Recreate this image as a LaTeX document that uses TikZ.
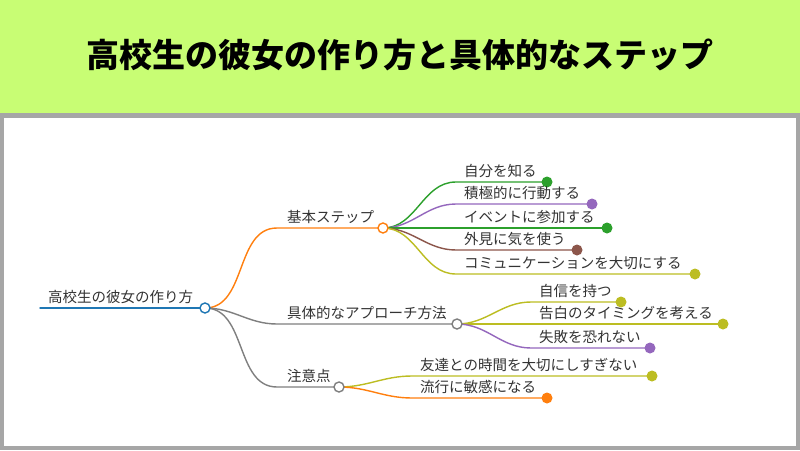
\documentclass[tikz,border=0pt]{standalone}
\usepackage{fontspec}
\setmainfont{Noto Sans CJK JP}
\usetikzlibrary{positioning}
\definecolor{banner}{HTML}{C8FD74}
\definecolor{frame}{HTML}{A6A6A6}
\definecolor{txt}{HTML}{333333}
\definecolor{cblue}{HTML}{1F77B4}
\definecolor{corange}{HTML}{FF7F0E}
\definecolor{cgray}{HTML}{7F7F7F}
\definecolor{cgreen}{HTML}{2CA02C}
\definecolor{cpurple}{HTML}{9467BD}
\definecolor{cbrown}{HTML}{8C564B}
\definecolor{colive}{HTML}{BCBD22}
\tikzset{
    every node/.style={font=\fontsize{14.5}{16}\selectfont, text=txt},
    hub/.style={circle, draw=#1, fill=white, line width=1.4pt, inner sep=0pt, minimum size=10pt},
    leaf/.style={circle, fill=#1, inner sep=0pt, minimum size=11pt},
    lbl/.style={anchor=south west, inner sep=0pt, xshift=8pt, yshift=4pt},
    branch/.style={line width=1.4pt}
}

\begin{document}
\begin{tikzpicture}[
            x = 1pt, y = -1pt, % pixel grid
            line cap = round
        ]
        \useasboundingbox (0,0) rectangle (800,450);

        % title banner and frame
        \fill[banner] (0,0) rectangle (800,113);
        \fill[frame] (0,113) rectangle (800,450);
        \fill[white] (4,118) rectangle (796,446);
        \node[font=\fontsize{33}{36}\selectfont\bfseries, text=black] (title) at (400,55) {高校生の彼女の作り方と具体的なステップ};

        % positions
        \coordinate (rootL) at (40,308);
        \coordinate (root) at (205,308);
        \coordinate (basicL) at (277,228);
        \coordinate (basic) at (383,228);
        \coordinate (approachL) at (277,324);
        \coordinate (approach) at (457,324);
        \coordinate (cautionL) at (277,387);
        \coordinate (caution) at (339,387);

        \coordinate (k1L) at (456,182);
        \coordinate (k1) at (547,182);
        \coordinate (k2L) at (456,204);
        \coordinate (k2) at (592,204);
        \coordinate (k3L) at (456,228);
        \coordinate (k3) at (607,228);
        \coordinate (k4L) at (456,250);
        \coordinate (k4) at (577,250);
        \coordinate (k5L) at (456,274);
        \coordinate (k5) at (695,274);

        \coordinate (g1L) at (531,302);
        \coordinate (g1) at (621,302);
        \coordinate (g2L) at (531,324);
        \coordinate (g2) at (723,324);
        \coordinate (g3L) at (531,348);
        \coordinate (g3) at (650,348);

        \coordinate (c1L) at (412,376);
        \coordinate (c1) at (652,376);
        \coordinate (c2L) at (412,398);
        \coordinate (c2) at (547,398);

        % connectors
        \draw[branch, cblue] (rootL) -- (root);
        \draw[branch, corange] (root) to[out=0, in=180] (basicL) -- (basic);
        \draw[branch, cgray] (root) to[out=0, in=180] (approachL) -- (approach);
        \draw[branch, cgray] (root) to[out=0, in=180] (cautionL) -- (caution);

        \draw[branch, cgreen] (basic) to[out=0, in=180] (k1L) -- (k1);
        \draw[branch, cpurple] (basic) to[out=0, in=180] (k2L) -- (k2);
        \draw[branch, cgreen] (basic) to[out=0, in=180] (k3L) -- (k3);
        \draw[branch, cbrown] (basic) to[out=0, in=180] (k4L) -- (k4);
        \draw[branch, colive] (basic) to[out=0, in=180] (k5L) -- (k5);

        \draw[branch, colive] (approach) to[out=0, in=180] (g1L) -- (g1);
        \draw[branch, colive] (approach) to[out=0, in=180] (g2L) -- (g2);
        \draw[branch, cpurple] (approach) to[out=0, in=180] (g3L) -- (g3);

        \draw[branch, colive] (caution) to[out=0, in=180] (c1L) -- (c1);
        \draw[branch, corange] (caution) to[out=0, in=180] (c2L) -- (c2);

        % hubs and leaves
        \node[hub=cblue] (rootHub) at (root) {};
        \node[hub=corange] (basicHub) at (basic) {};
        \node[hub=cgray] (approachHub) at (approach) {};
        \node[hub=cgray] (cautionHub) at (caution) {};

        \node[leaf=cgreen] (k1Dot) at (k1) {};
        \node[leaf=cpurple] (k2Dot) at (k2) {};
        \node[leaf=cgreen] (k3Dot) at (k3) {};
        \node[leaf=cbrown] (k4Dot) at (k4) {};
        \node[leaf=colive] (k5Dot) at (k5) {};
        \node[leaf=colive] (g1Dot) at (g1) {};
        \node[leaf=colive] (g2Dot) at (g2) {};
        \node[leaf=cpurple] (g3Dot) at (g3) {};
        \node[leaf=colive] (c1Dot) at (c1) {};
        \node[leaf=corange] (c2Dot) at (c2) {};

        % labels
        \node[lbl] (rootText) at (rootL) {高校生の彼女の作り方};
        \node[lbl, xshift=2pt] (basicText) at (basicL) {基本ステップ};
        \node[lbl, xshift=2pt] (approachText) at (approachL) {具体的なアプローチ方法};
        \node[lbl, xshift=2pt] (cautionText) at (cautionL) {注意点};

        \node[lbl] (k1Text) at (k1L) {自分を知る};
        \node[lbl] (k2Text) at (k2L) {積極的に行動する};
        \node[lbl] (k3Text) at (k3L) {イベントに参加する};
        \node[lbl] (k4Text) at (k4L) {外見に気を使う};
        \node[lbl] (k5Text) at (k5L) {コミュニケーションを大切にする};

        \node[lbl] (g1Text) at (g1L) {自信を持つ};
        \node[lbl] (g2Text) at (g2L) {告白のタイミングを考える};
        \node[lbl] (g3Text) at (g3L) {失敗を恐れない};

        \node[lbl] (c1Text) at (c1L) {友達との時間を大切にしすぎない};
        \node[lbl] (c2Text) at (c2L) {流行に敏感になる};

\end{tikzpicture}
\end{document}
